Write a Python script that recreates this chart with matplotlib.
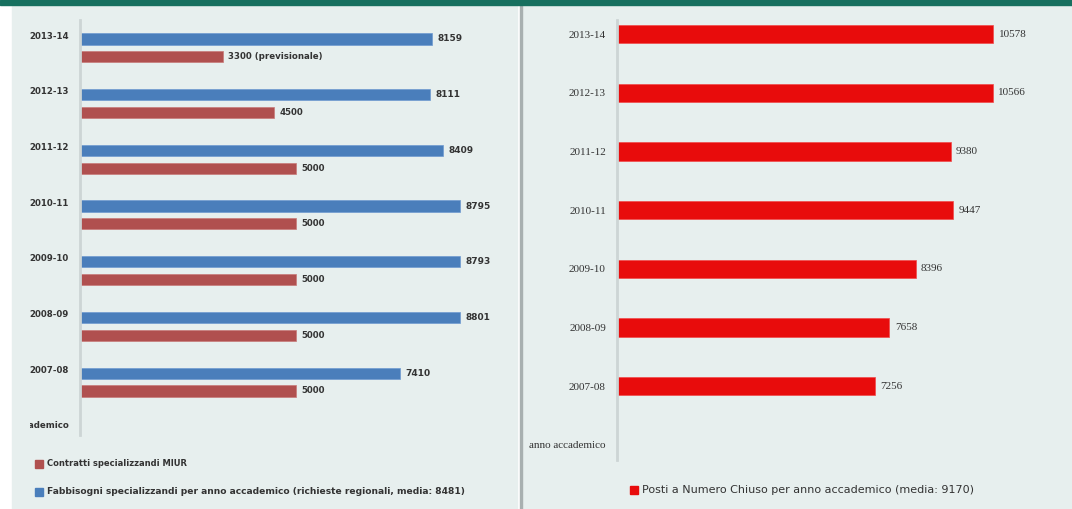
import matplotlib.pyplot as plt
from matplotlib.patches import Rectangle
from matplotlib.transforms import Bbox

# Anni accademici (dal più recente) e valori
anni = ['2013-14', '2012-13', '2011-12', '2010-11', '2009-10', '2008-09', '2007-08']
fabbisogni = [8159, 8111, 8409, 8795, 8793, 8801, 7410]
contratti = [3300, 4500, 5000, 5000, 5000, 5000, 5000]
contratti_labels = ['3300 (previsionale)', '4500', '5000', '5000', '5000', '5000', '5000']
posti = [10578, 10566, 9380, 9447, 8396, 7658, 7256]

W, H = 1072, 509
fig = plt.figure(figsize=(W / 100, H / 100), dpi=100, facecolor='white')

bg = '#e7efee'
# pannelli di sfondo e banda superiore
fig.patches.append(Rectangle((12 / W, 0), 505 / W, 1, transform=fig.transFigure,
                             color=bg, zorder=0))
fig.patches.append(Rectangle((521 / W, 0), 551 / W, 1, transform=fig.transFigure,
                             color=bg, zorder=0))
fig.patches.append(Rectangle((520 / W, 0), 2 / W, 1, transform=fig.transFigure,
                             color='#a8b0b0', zorder=1))
fig.patches.append(Rectangle((0, 1 - 5 / H), 1, 5 / H, transform=fig.transFigure,
                             color='#17705f', zorder=2))


def make_axes(x0, x1, y0, y1):
    ax = fig.add_axes([x0 / W, 1 - y1 / H, (x1 - x0) / W, (y1 - y0) / H])
    ax.set_zorder(5)
    ax.patch.set_alpha(0)
    for s in ['top', 'right', 'bottom']:
        ax.spines[s].set_visible(False)
    ax.spines['left'].set_color('#cdd5d5')
    ax.spines['left'].set_linewidth(2)
    ax.set_xticks([])
    ax.tick_params(axis='y', length=0, pad=8)
    return ax


labels = anni + ['anno accademico']
pos = list(range(len(anni)))

# --- grafico di sinistra: fabbisogni vs contratti ---
ax1 = make_axes(80, 512, 20, 435)
ax1.set_xlim(0, 10000)
ax1.set_ylim(7.18, -0.27)
blue_y = [p + 0.07 for p in pos]
red_y = [p + 0.39 for p in pos]
ax1.barh(blue_y, fabbisogni, height=0.2, color='#4a7ebb', edgecolor='#6f9ad0', linewidth=0.5)
ax1.barh(red_y, contratti, height=0.2, color='#b0504f', edgecolor='#c77a79', linewidth=0.5)
for y, v in zip(blue_y, fabbisogni):
    ax1.text(v + 120, y, str(v), va='center', ha='left', fontsize=6.5,
             fontweight='bold', color='#333333')
for y, v, t in zip(red_y, contratti, contratti_labels):
    ax1.text(v + 120, y, t, va='center', ha='left', fontsize=6.2,
             fontweight='bold', color='#333333')
ax1.set_yticks(range(len(labels)))
ax1.set_yticklabels(labels, fontsize=6.2, fontweight='bold', color='#333333')
# l'ultima etichetta esce dal pannello: tagliata al bordo
last = ax1.get_yticklabels()[-1]
last.set_clip_box(Bbox.from_extents(30, 0, W, H))
last.set_clip_on(True)

# legenda sinistra
fig.patches.append(Rectangle((35 / W, 1 - 468 / H), 8 / W, 8 / H,
                             transform=fig.transFigure, color='#b0504f', zorder=3))
fig.text(47 / W, 1 - 464 / H, 'Contratti specializzandi MIUR', fontsize=6,
         fontweight='bold', color='#333333', va='center')
fig.patches.append(Rectangle((35 / W, 1 - 496 / H), 8 / W, 8 / H,
                             transform=fig.transFigure, color='#4a7ebb', zorder=3))
fig.text(47 / W, 1 - 492 / H,
         'Fabbisogni specializzandi per anno accademico (richieste regionali, media: 8481)',
         fontsize=6.6, fontweight='bold', color='#333333', va='center')

# --- grafico di destra: posti a numero chiuso ---
ax2 = make_axes(617, 1044, 20, 460)
ax2.set_xlim(0, 12000)
ax2.set_ylim(7.26, -0.24)
ax2.barh(pos, posti, height=0.31, color='#e80c0c', edgecolor='#f04a4a', linewidth=0.5)
for y, v in zip(pos, posti):
    ax2.text(v + 150, y, str(v), va='center', ha='left', fontsize=8,
             family='Liberation Serif', color='#333333')
ax2.set_yticks(range(len(labels)))
ax2.set_yticklabels(labels, fontsize=8, family='Liberation Serif', color='#333333')

fig.patches.append(Rectangle((630 / W, 1 - 494 / H), 8 / W, 8 / H,
                             transform=fig.transFigure, color='#e80c0c', zorder=3))
fig.text(642 / W, 1 - 490 / H,
         'Posti a Numero Chiuso per anno accademico (media: 9170)',
         fontsize=8, color='#333333', va='center')

fig.savefig('out.png', dpi=100, facecolor='white')
